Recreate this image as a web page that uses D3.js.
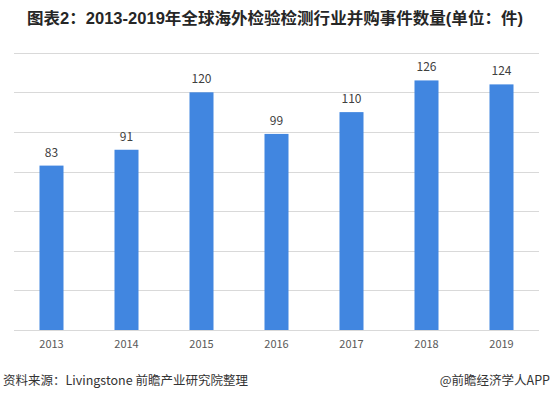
<!DOCTYPE html>
<html><head><meta charset="utf-8">
<script src="https://cdn.jsdelivr.net/npm/d3@7"></script>
<style>body{margin:0;background:#fff}svg{display:block}</style>
</head><body>
<script>
const years = ["2013","2014","2015","2016","2017","2018","2019"];
const counts = [83, 91, 120, 99, 110, 126, 124];
const yTicks = [0, 20, 40, 60, 80, 100, 120, 140];
const titleText = "图表2：2013-2019年全球海外检验检测行业并购事件数量(单位：件)";
const sourceText = "资料来源：Livingstone 前瞻产业研究院整理";
const brandText = "@前瞻经济学人APP";

const W = 554, H = 395;
const m = {left: 14, right: 15, top: 52.7, bottom: 65};
const svg = d3.select("body").append("svg").attr("width", W).attr("height", H);
const font = "'Microsoft YaHei','Noto Sans CJK SC',Arial,sans-serif";

const x = d3.scaleBand().domain(years).range([m.left, W - m.right]).paddingInner(0.68).paddingOuter(0.34);
const y = d3.scaleLinear().domain([0, 140]).range([H - m.bottom, m.top]);

svg.append("text").attr("x", 27).attr("y", 24).attr("font-family", "Arial,'Noto Sans CJK SC',sans-serif")
  .attr("font-weight", "bold").attr("font-size", 16).attr("fill", "#262626").attr("textLength", 496).attr("lengthAdjust","spacingAndGlyphs").text(titleText);

svg.append("g").selectAll("line").data(yTicks).join("line")
  .attr("x1", m.left).attr("x2", W - m.right)
  .attr("y1", d => Math.round(y(d)) + 0.5).attr("y2", d => Math.round(y(d)) + 0.5)
  .attr("stroke", "#d9d9d9").attr("stroke-width", 1);

svg.append("g").selectAll("rect").data(counts).join("rect")
  .attr("x", (d, i) => x(years[i])).attr("width", x.bandwidth())
  .attr("y", d => y(d)).attr("height", d => y(0) - y(d))
  .attr("fill", "#4186e0");

svg.append("g").selectAll("text").data(counts).join("text")
  .attr("x", (d, i) => x(years[i]) + x.bandwidth() / 2).attr("y", d => y(d) - 9)
  .attr("text-anchor", "middle").attr("font-family", font).attr("font-size", 12)
  .attr("fill", "#404040").text(d => d);

const xAxis = svg.append("g").attr("transform", `translate(0,${y(0)})`)
  .call(d3.axisBottom(x).tickSize(0).tickPadding(10));
xAxis.select(".domain").remove();
xAxis.selectAll("text").attr("font-family", font).attr("font-size", 11).attr("fill", "#595959");

svg.append("text").attr("x", 3).attr("y", 385).attr("font-family", font).attr("font-size", 12.5)
  .attr("fill", "#333").text(sourceText);
svg.append("text").attr("x", 550).attr("y", 385).attr("text-anchor", "end").attr("font-family", font)
  .attr("font-size", 12.5).attr("fill", "#333").text(brandText);
</script>
</body></html>
